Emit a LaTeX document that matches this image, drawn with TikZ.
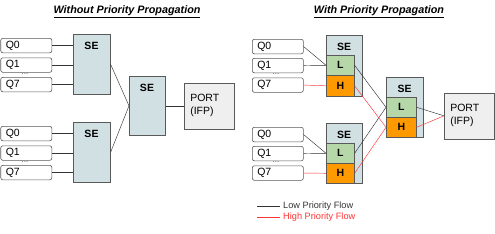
\documentclass[tikz,border=0pt]{standalone}
\usepackage{fontspec}
\setmainfont{Liberation Sans}
\usepackage{tikz}

\definecolor{sefill}{HTML}{D0E0E3}
\definecolor{portfill}{HTML}{EFEFEF}
\definecolor{lowfill}{HTML}{B6D7A8}
\definecolor{highfill}{HTML}{FF9900}
\definecolor{edgegray}{HTML}{595959}
\definecolor{flowred}{HTML}{FF3333}

\tikzset{
  box/.style={draw=edgegray, line width=0.6pt, anchor=north west, inner sep=0pt},
  queue/.style={box, rounded corners=2pt, fill=white, minimum height=14.5pt,
    text width=41pt, inner xsep=5pt, align=left, font=\fontsize{10.5}{12}\selectfont},
  sebox/.style={box, fill=sefill},
  lbox/.style={box, fill=lowfill, font=\fontsize{10.5}{12}\selectfont\bfseries},
  hbox/.style={box, fill=highfill, font=\fontsize{10.5}{12}\selectfont\bfseries},
  portbox/.style={box, fill=portfill, minimum height=46pt, text width=38pt,
    inner xsep=6pt, align=left, font=\fontsize{10.5}{13}\selectfont},
  setext/.style={font=\fontsize{10.5}{12}\selectfont\bfseries},
  dots/.style={font=\fontsize{8}{8}\selectfont, inner sep=0pt, text=edgegray},
  title/.style={font=\fontsize{10.8}{12}\selectfont\bfseries\itshape},
  legendtext/.style={anchor=west, font=\fontsize{9.2}{10}\selectfont, inner sep=0pt},
  lowflow/.style={draw=black!80, line width=0.45pt},
  highflow/.style={draw=flowred, line width=0.45pt}
}

\begin{document}
\begin{tikzpicture}[x=1pt,y=-1pt]
    \useasboundingbox (0,0) rectangle (495,233);

    % left half: without priority propagation
    \node[title] (titleA) at (127,12) {\underline{Without Priority Propagation}};

    \node[queue] (aq0) at (0.5,38) {Q0};
    \node[queue] (aq1) at (0.5,57.5) {Q1};
    \node[dots] (adots) at (25,74) {...};
    \node[queue] (aq7) at (0.5,77) {Q7};
    \node[sebox, minimum width=37pt, minimum height=60pt] (ase1) at (73,34) {};
    \node[setext] (ase1t) at (91.5,46) {SE};

    \node[queue] (bq0) at (0.5,126) {Q0};
    \node[queue] (bq1) at (0.5,145.5) {Q1};
    \node[dots] (bdots) at (25,162) {...};
    \node[queue] (bq7) at (0.5,165) {Q7};
    \node[sebox, minimum width=37pt, minimum height=60pt] (ase2) at (73,122) {};
    \node[setext] (ase2t) at (91.5,134) {SE};

    \node[sebox, minimum width=36pt, minimum height=59pt] (asem) at (129,76) {};
    \node[setext] (asemt) at (147,88) {SE};
    \node[portbox] (aport) at (184,82.5) {PORT\\(IFP)};

    \foreach \q in {aq0,aq1,aq7}
      \draw[lowflow] (\q.east) -- (\q.east -| ase1.west);
    \foreach \q in {bq0,bq1,bq7}
      \draw[lowflow] (\q.east) -- (\q.east -| ase2.west);
    \draw[lowflow] (ase1.east) -- (asem.west);
    \draw[lowflow] (ase2.east) -- (asem.west);
    \draw[lowflow] (asem.east) -- (asem.east -| aport.west);

    % right half: with priority propagation
    \node[title] (titleB) at (379,12) {\underline{With Priority Propagation}};

    \node[queue] (cq0) at (252,39) {Q0};
    \node[queue] (cq1) at (252,58) {Q1};
    \node[dots] (cdots) at (276,74.5) {...};
    \node[queue] (cq7) at (252,77.5) {Q7};
    \node[sebox, minimum width=36pt, minimum height=61pt] (bse1) at (326,35) {};
    \node[setext] (bse1t) at (344,47) {SE};
    \node[lbox, minimum width=28pt, minimum height=20pt] (bl1) at (326,55) {L};
    \node[hbox, minimum width=28pt, minimum height=21pt] (bh1) at (326,75) {H};

    \node[queue] (dq0) at (252,127) {Q0};
    \node[queue] (dq1) at (252,146) {Q1};
    \node[dots] (ddots) at (276,162.5) {...};
    \node[queue] (dq7) at (252,165.5) {Q7};
    \node[sebox, minimum width=36pt, minimum height=60pt] (bse2) at (326,123) {};
    \node[setext] (bse2t) at (344,135) {SE};
    \node[lbox, minimum width=28pt, minimum height=20pt] (bl2) at (326,143) {L};
    \node[hbox, minimum width=28pt, minimum height=20pt] (bh2) at (326,163) {H};

    \node[sebox, minimum width=37pt, minimum height=60pt] (bsem) at (386,77) {};
    \node[setext] (bsemt) at (404.5,89) {SE};
    \node[lbox, minimum width=30pt, minimum height=20pt] (blm) at (386,97) {L};
    \node[hbox, minimum width=30pt, minimum height=20pt] (bhm) at (386,117) {H};
    \node[portbox] (bport) at (444,92.5) {PORT\\(IFP)};

    \draw[lowflow] (cq0.east) -- (bl1.west);
    \draw[lowflow] (cq1.east) -- (bl1.west);
    \draw[highflow] (cq7.east) -- (bh1.west);
    \draw[lowflow] (dq0.east) -- (bl2.west);
    \draw[lowflow] (dq1.east) -- (bl2.west);
    \draw[highflow] (dq7.east) -- (bh2.west);

    \draw[lowflow] (bl1.east) -- (blm.west);
    \draw[lowflow] (bl2.east) -- (blm.west);
    \draw[highflow] (bh1.east) -- (bhm.west);
    \draw[highflow] (bh2.east) -- (bhm.west);
    \draw[lowflow] (blm.east) -- (bport.west);
    \draw[highflow] (bhm.east) -- (bport.west);

    % legend
    \coordinate (lowA) at (257,206);
    \coordinate (lowB) at (280,206);
    \coordinate (highA) at (257,217);
    \coordinate (highB) at (280,217);
    \draw[lowflow] (lowA) -- (lowB);
    \draw[highflow] (highA) -- (highB);
    \node[legendtext, text=black!80] (lowtext) at ([xshift=3pt]lowB) {Low Priority Flow};
    \node[legendtext, text=flowred] (hightext) at ([xshift=3pt]highB) {High Priority Flow};
\end{tikzpicture}
\end{document}
